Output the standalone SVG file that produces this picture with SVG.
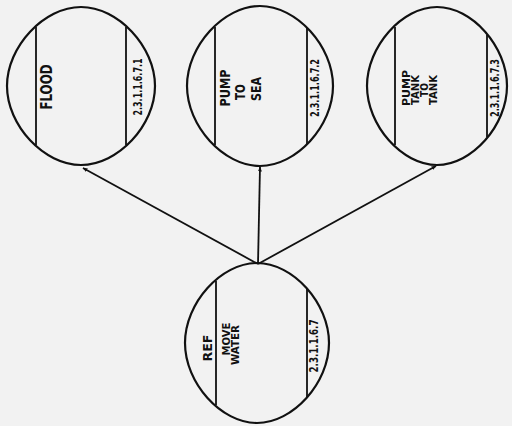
<svg xmlns="http://www.w3.org/2000/svg" width="512" height="426" viewBox="0 0 512 426">
<style>
.bub{fill:none;stroke:#111;stroke-width:2.2}
.div{stroke:#111;stroke-width:1.8}
.con{stroke:#111;stroke-width:1.8;fill:none}
.t{font-family:"DejaVu Sans Condensed","Liberation Sans",sans-serif;font-weight:bold;fill:#111;text-anchor:middle;dominant-baseline:central}
.num{font-size:13px}
</style>
<defs>
<marker id="ah" viewBox="0 0 10 10" refX="9" refY="5" markerWidth="5" markerHeight="5" orient="auto" markerUnits="userSpaceOnUse">
<path d="M0,1 L10,5 L0,9 Z" fill="#111"/>
</marker>
</defs>
<rect width="512" height="426" fill="#f2f2f2"/>
<g id="connectors">
<line class="con" x1="258" y1="264" x2="83" y2="168" marker-end="url(#ah)"/>
<line class="con" x1="258" y1="264" x2="260" y2="167" marker-end="url(#ah)"/>
<line class="con" x1="258" y1="264" x2="436" y2="166" marker-end="url(#ah)"/>
</g>
<g id="n1">
<path class="bub" d="M81,7 C118,7 155,46.5 155,86 C155,125.5 118,165 81,165 C44,165 7,125.5 7,86 C7,46.5 44,7 81,7Z"/>
<line class="div" x1="36" y1="27" x2="36" y2="145"/>
<line class="div" x1="126" y1="27" x2="126" y2="145"/>
<text class="t" transform="translate(47,87) rotate(-90)" font-size="15" textLength="45" lengthAdjust="spacingAndGlyphs">FLOOD</text>
<text class="t num" transform="translate(137,87) rotate(-90)" textLength="57" lengthAdjust="spacingAndGlyphs">2.3.1.1.6.7.1</text>
</g>
<g id="n2">
<path class="bub" d="M260,6 C296.5,6 333,46 333,86 C333,126 296.5,166 260,166 C223.5,166 187,126 187,86 C187,46 223.5,6 260,6Z"/>
<line class="div" x1="215" y1="27" x2="215" y2="145"/>
<line class="div" x1="307" y1="28" x2="307" y2="144"/>
<text class="t" transform="translate(225,88) rotate(-90)" font-size="14" textLength="37" lengthAdjust="spacingAndGlyphs">PUMP</text>
<text class="t" transform="translate(240,92) rotate(-90)" font-size="14" textLength="16" lengthAdjust="spacingAndGlyphs">TO</text>
<text class="t" transform="translate(256,89) rotate(-90)" font-size="14" textLength="24" lengthAdjust="spacingAndGlyphs">SEA</text>
<text class="t num" transform="translate(314,88) rotate(-90)" textLength="58" lengthAdjust="spacingAndGlyphs">2.3.1.1.6.7.2</text>
</g>
<g id="n3">
<path class="bub" d="M437,7 C472,7 507,46.5 507,86 C507,125.5 472,165 437,165 C402,165 367,125.5 367,86 C367,46.5 402,7 437,7Z"/>
<line class="div" x1="395" y1="27" x2="395" y2="145"/>
<line class="div" x1="487" y1="35" x2="487" y2="137"/>
<text class="t" transform="translate(406,88) rotate(-90)" font-size="10" textLength="36" lengthAdjust="spacingAndGlyphs">PUMP</text>
<text class="t" transform="translate(415.5,90) rotate(-90)" font-size="10" textLength="30" lengthAdjust="spacingAndGlyphs">TANK</text>
<text class="t" transform="translate(424.5,90) rotate(-90)" font-size="10" textLength="14" lengthAdjust="spacingAndGlyphs">TO</text>
<text class="t" transform="translate(433.5,90) rotate(-90)" font-size="10" textLength="30" lengthAdjust="spacingAndGlyphs">TANK</text>
<text class="t num" transform="translate(494,88) rotate(-90)" textLength="58" lengthAdjust="spacingAndGlyphs">2.3.1.1.6.7.3</text>
</g>
<g id="n0">
<path class="bub" d="M257,263 C293,263 329,303 329,343 C329,383 293,423 257,423 C221,423 185,383 185,343 C185,303 221,263 257,263Z"/>
<line class="div" x1="216" y1="281" x2="216" y2="405"/>
<line class="div" x1="307" y1="289" x2="307" y2="397"/>
<text class="t" transform="translate(207,348) rotate(-90)" font-size="13" textLength="27" lengthAdjust="spacingAndGlyphs">REF</text>
<text class="t" transform="translate(225.5,339) rotate(-90)" font-size="10.5" textLength="33" lengthAdjust="spacingAndGlyphs">MOVE</text>
<text class="t" transform="translate(234.5,345) rotate(-90)" font-size="10.5" textLength="40" lengthAdjust="spacingAndGlyphs">WATER</text>
<text class="t num" transform="translate(313,346) rotate(-90)" textLength="53" lengthAdjust="spacingAndGlyphs">2.3.1.1.6.7</text>
</g>
</svg>
